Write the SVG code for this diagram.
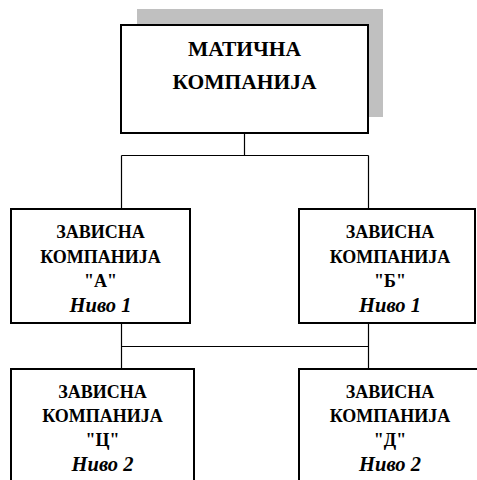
<svg xmlns="http://www.w3.org/2000/svg" width="477" height="480" viewBox="0 0 477 480">
  <style>
    .box { fill: #ffffff; stroke: #000000; stroke-width: 2; }
    .shadow { fill: #c0c0c0; stroke: none; }
    .wire { fill: none; stroke: #000000; stroke-width: 1.2; }
    .t { font-family: "Liberation Serif", "Times New Roman", serif; font-weight: bold; text-anchor: middle; fill: #000000; }
    .top { font-size: 21.5px; }
    .sub { font-size: 18px; }
    .lvl { font-style: italic; font-size: 20.5px; }
  </style>
  <rect width="477" height="480" fill="#ffffff"/>

  <!-- connectors -->
  <g id="connectors">
    <path class="wire" d="M244.5 133 V155.5 M121.5 155.5 H368.5 M121.5 155.5 V209 M368.5 155.5 V209"/>
    <path class="wire" d="M121.5 323 V346.5 M121.5 346.5 H368.5 M368.5 323 V346.5 M121.5 346.5 V369 M368.5 346.5 V369"/>
  </g>

  <!-- parent company -->
  <g id="parent">
    <rect class="shadow" x="137" y="9" width="246" height="108"/>
    <rect class="box" x="121" y="25" width="247" height="108"/>
    <text class="t top" x="244.5" y="56">МАТИЧНА</text>
    <text class="t top" x="244.5" y="89">КОМПАНИЈА</text>
  </g>

  <!-- subsidiary A -->
  <g id="sub-a">
    <rect class="box" x="11" y="209" width="179" height="114"/>
    <text class="t sub" x="100.5" y="238">ЗАВИСНА</text>
    <text class="t sub" x="100.5" y="263">КОМПАНИЈА</text>
    <text class="t sub" x="100.5" y="287">"А"</text>
    <text class="t sub lvl" x="100.5" y="312">Ниво 1</text>
  </g>

  <!-- subsidiary B -->
  <g id="sub-b">
    <rect class="box" x="299" y="209" width="176" height="114"/>
    <text class="t sub" x="390" y="238">ЗАВИСНА</text>
    <text class="t sub" x="390" y="263">КОМПАНИЈА</text>
    <text class="t sub" x="390" y="287">"Б"</text>
    <text class="t sub lvl" x="390" y="312">Ниво 1</text>
  </g>

  <!-- subsidiary C -->
  <g id="sub-c">
    <rect class="box" x="11" y="369" width="183" height="120"/>
    <text class="t sub" x="102.5" y="398">ЗАВИСНА</text>
    <text class="t sub" x="102.5" y="422">КОМПАНИЈА</text>
    <text class="t sub" x="102.5" y="446">"Ц"</text>
    <text class="t sub lvl" x="102.5" y="471">Ниво 2</text>
  </g>

  <!-- subsidiary D -->
  <g id="sub-d">
    <rect class="box" x="299" y="369" width="190" height="120"/>
    <text class="t sub" x="390" y="398">ЗАВИСНА</text>
    <text class="t sub" x="390" y="422">КОМПАНИЈА</text>
    <text class="t sub" x="390" y="446">"Д"</text>
    <text class="t sub lvl" x="390" y="471">Ниво 2</text>
  </g>
</svg>
